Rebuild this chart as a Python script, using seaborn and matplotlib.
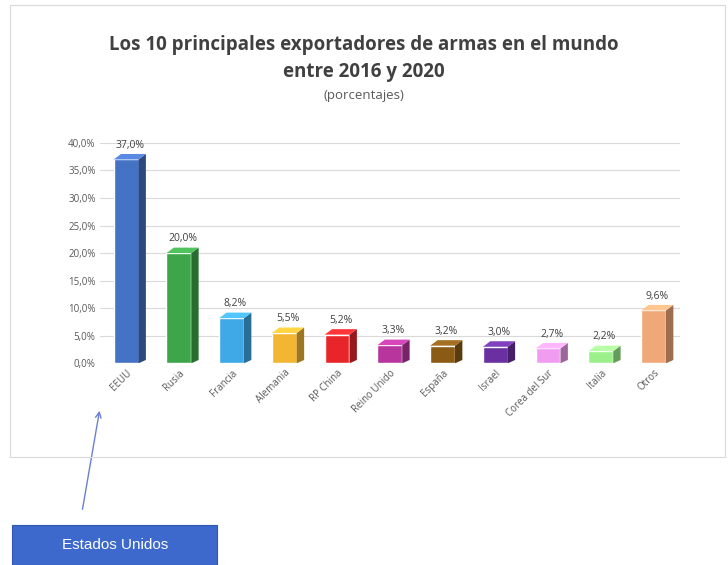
import matplotlib
matplotlib.use("Agg")
import matplotlib.pyplot as plt
import matplotlib.colors as mcolors
from matplotlib.patches import Polygon, Rectangle
import seaborn as sns
import pandas as pd

paises = ["EEUU", "Rusia", "Francia", "Alemania", "RP China", "Reino Unido",
          "España", "Israel", "Corea del Sur", "Italia", "Otros"]
porcentajes = [37.0, 20.0, 8.2, 5.5, 5.2, 3.3, 3.2, 3.0, 2.7, 2.2, 9.6]
colores = ["#4472C4", "#3DA64A", "#3FA9E8", "#F2B632", "#E8262A", "#B8359E",
           "#8B5A14", "#6A2FA0", "#F09CF0", "#9CF08C", "#F0A878"]
yticks = [0, 5, 10, 15, 20, 25, 30, 35, 40]

df = pd.DataFrame({"pais": paises, "pct": porcentajes})

sns.set_theme(style="white")
plt.rcParams["font.family"] = ["Open Sans", "DejaVu Sans"]

fig = plt.figure(figsize=(7.28, 5.65), dpi=100)
ax = fig.add_axes([0.137, 0.357, 0.797, 0.39])

sns.barplot(data=df, x="pais", y="pct", hue="pais", palette=colores,
            width=0.47, legend=False, ax=ax, saturation=1, zorder=3)

ax.set_ylim(0, 40)
ax.set_xlim(-0.5, len(paises) - 0.5)
ax.set_yticks(yticks)
ax.set_yticklabels([f"{v:.1f}%".replace(".", ",") for v in yticks],
                   fontsize=7, color="#595959")
ax.set_xticks(range(len(paises)))
ax.set_xticklabels(paises, rotation=45, ha="right", rotation_mode="anchor",
                   fontsize=7, color="#595959")
ax.tick_params(axis="both", length=0, pad=3)
ax.grid(axis="y", color="#D9D9D9", linewidth=0.8, zorder=0)
for s in ax.spines.values():
    s.set_visible(False)
ax.set_xlabel("")
ax.set_ylabel("")

# 3D look: side and top faces derived from each bar
dx_pts = 0.14
dy = 1.0
for p, c in zip(ax.patches, colores):
    x0, w, h = p.get_x(), p.get_width(), p.get_height()
    x1 = x0 + w
    dark = tuple(v * 0.65 for v in mcolors.to_rgb(c))
    light = tuple(min(1, v * 1.1 + 0.05) for v in mcolors.to_rgb(c))
    side = Polygon([(x1, 0), (x1 + dx_pts, dy * 0.6), (x1 + dx_pts, h + dy), (x1, h)],
                   closed=True, facecolor=dark, edgecolor="none", zorder=3)
    top = Polygon([(x0, h), (x0 + dx_pts, h + dy), (x1 + dx_pts, h + dy), (x1, h)],
                  closed=True, facecolor=light, edgecolor="none", zorder=3)
    ax.add_patch(side)
    ax.add_patch(top)
    ax.text(x0 + w / 2 + dx_pts / 2, h + dy + 0.6, f"{h:.1f}%".replace(".", ","),
            ha="center", va="bottom", fontsize=7.5, color="#404040", zorder=4)

# Titles
fig.text(0.5, 1 - 45 / 565, "Los 10 principales exportadores de armas en el mundo",
         ha="center", va="center", fontsize=13.5, fontweight="bold", color="#404040")
fig.text(0.5, 1 - 72 / 565, "entre 2016 y 2020", ha="center", va="center",
         fontsize=13.5, fontweight="bold", color="#404040")
fig.text(0.5, 1 - 96 / 565, "(porcentajes)", ha="center", va="center",
         fontsize=9.5, color="#595959")

# Chart frame
fig.patches.append(Rectangle((10 / 728, 1 - 457 / 565), 715 / 728, 452 / 565,
                             transform=fig.transFigure, fill=False,
                             edgecolor="#D9D9D9", linewidth=0.8))

# Annotation box and arrow
fig.patches.append(Rectangle((12 / 728, 0), 205 / 728, 40 / 565,
                             transform=fig.transFigure, facecolor="#3D68CC",
                             edgecolor="#2F56B0", linewidth=0.8))
fig.text(115 / 728, 20 / 565, "Estados Unidos", ha="center", va="center",
         fontsize=11, color="white", family=["Liberation Sans", "DejaVu Sans"])
fig.add_artist(matplotlib.patches.FancyArrowPatch(
    (82 / 728, 1 - 512 / 565), (100 / 728, 1 - 408 / 565),
    transform=fig.transFigure, arrowstyle="->", mutation_scale=10,
    color="#6C7FD0", lw=1.0))

fig.savefig("out.png", dpi=100)
